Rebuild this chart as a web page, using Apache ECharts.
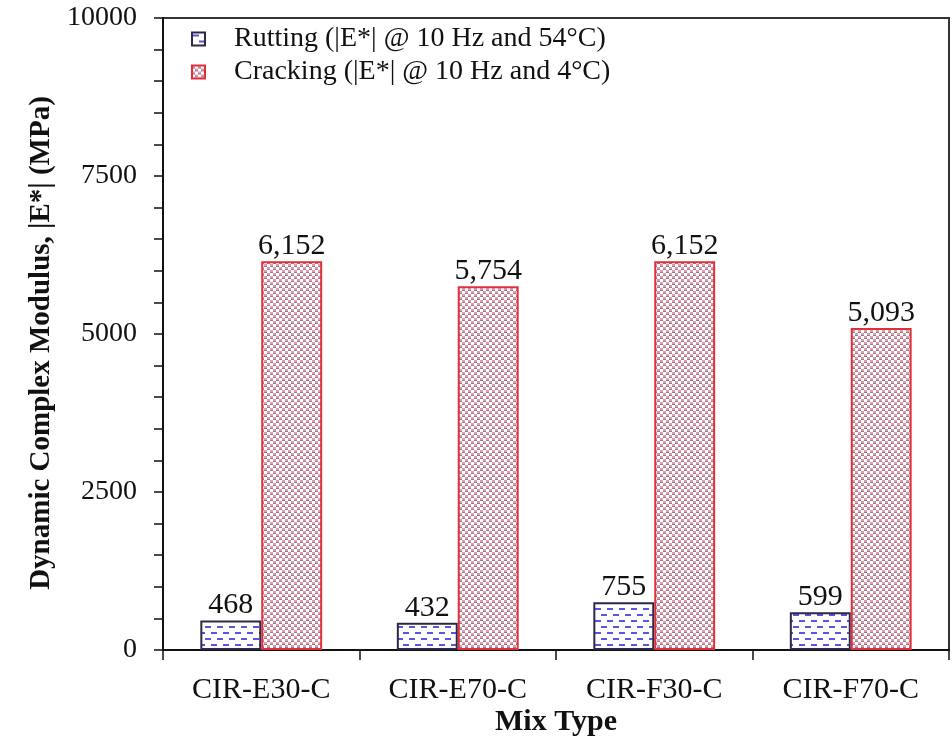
<!DOCTYPE html>
<html>
<head>
<meta charset="utf-8">
<script src="https://cdn.jsdelivr.net/npm/echarts@6/dist/echarts.min.js"></script>
<style>
html,body{margin:0;padding:0;background:#fff;}
#chart{width:952px;height:737px;}
</style>
</head>
<body>
<div id="chart"></div>
<script>
var categories = ['CIR-E30-C', 'CIR-E70-C', 'CIR-F30-C', 'CIR-F70-C'];
var seriesNames = ['Rutting (|E*| @ 10 Hz and 54°C)', 'Cracking (|E*| @ 10 Hz and 4°C)'];
var rutting = [468, 432, 755, 599];
var cracking = [6152, 5754, 6152, 5093];
var yTicks = [0, 2500, 5000, 7500, 10000];

function makeRutPattern() {
  var c = document.createElement('canvas');
  c.width = 12; c.height = 12;
  var g = c.getContext('2d');
  g.fillStyle = '#ffffff';
  g.fillRect(0, 0, 12, 12);
  g.fillStyle = '#5656e0';
  g.fillRect(1, 2, 6, 2);
  g.fillRect(7, 8, 5, 2);
  g.fillRect(0, 8, 1, 2);
  return c;
}
function makeCrackPattern() {
  var c = document.createElement('canvas');
  c.width = 6; c.height = 6;
  var g = c.getContext('2d');
  g.fillStyle = '#ffffff';
  g.fillRect(0, 0, 6, 6);
  var pink = '#e39aae', gray = '#8e8088';
  g.fillStyle = pink; g.fillRect(0, 0, 3, 2);
  g.fillStyle = gray; g.fillRect(0, 2, 3, 1);
  g.fillStyle = pink; g.fillRect(3, 3, 3, 2);
  g.fillStyle = gray; g.fillRect(3, 5, 3, 1);
  return c;
}

var rutFill = { image: makeRutPattern(), repeat: 'repeat' };
var crackFill = { image: makeCrackPattern(), repeat: 'repeat' };
var font = 'Liberation Serif';

var chart = echarts.init(document.getElementById('chart'));
chart.setOption({
  animation: false,
  backgroundColor: '#ffffff',
  textStyle: { fontFamily: font },
  grid: { left: 163, right: 3, top: 18, bottom: 87, show: true, borderColor: '#333', borderWidth: 2,
    backgroundColor: 'transparent', containLabel: false, outerBoundsMode: 'none' },
  legend: {
    orient: 'vertical', left: 186, top: 20, icon: 'rect',
    itemWidth: 13, itemHeight: 13, itemGap: 5,
    textStyle: { fontFamily: font, fontSize: 28, color: '#111', padding: [0, 0, 0, 24], lineHeight: 28 },
    data: [
      { name: seriesNames[0], itemStyle: { color: rutFill, borderColor: '#2a2a48', borderWidth: 2 } },
      { name: seriesNames[1], itemStyle: { color: crackFill, borderColor: '#e0303a', borderWidth: 2 } }
    ]
  },
  xAxis: {
    type: 'category', data: categories,
    name: 'Mix Type', nameLocation: 'middle', nameGap: 57, nameMoveOverlap: false,
    nameTextStyle: { fontFamily: font, fontSize: 30, fontWeight: 'bold', color: '#111' },
    axisLine: { lineStyle: { color: '#111', width: 2 } },
    axisTick: { show: true, inside: false, length: 10, alignWithLabel: false, lineStyle: { color: '#111', width: 1.5 } },
    axisLabel: { fontFamily: font, fontSize: 30, color: '#111', margin: 25 }
  },
  yAxis: {
    type: 'value', min: 0, max: 10000, interval: 2500,
    name: 'Dynamic Complex Modulus, |E*| (MPa)', nameLocation: 'middle', nameGap: 104,
    nameTextStyle: { fontFamily: font, fontSize: 29, fontWeight: 'bold', color: '#111', padding: [0, 18, 0, 0] },
    axisLine: { show: true, lineStyle: { color: '#111', width: 2 } },
    axisTick: { show: true, inside: false, length: 9, lineStyle: { color: '#111', width: 1.5 } },
    minorTick: { show: true, splitNumber: 5, length: 9, lineStyle: { color: '#111', width: 1.5 } },
    splitLine: { show: false },
    axisLabel: {
      fontFamily: font, fontSize: 28, color: '#111', margin: 26,
      formatter: function (v) { return yTicks.indexOf(v) >= 0 ? String(v) : ''; }
    }
  },
  series: [
    {
      name: seriesNames[0], type: 'bar', data: rutting, barWidth: '31%', barGap: '0%',
      itemStyle: { color: rutFill, borderColor: '#2a2a48', borderWidth: 2 },
      label: { show: true, position: 'top', distance: 0, fontFamily: font, fontSize: 30, color: '#111',
        formatter: function (p) { return p.value.toLocaleString('en-US'); } }
    },
    {
      name: seriesNames[1], type: 'bar', data: cracking, barWidth: '31%', barGap: '0%',
      itemStyle: { color: crackFill, borderColor: '#e0303a', borderWidth: 2 },
      label: { show: true, position: 'top', distance: 0, fontFamily: font, fontSize: 30, color: '#111',
        formatter: function (p) { return p.value.toLocaleString('en-US'); } }
    }
  ]
});
</script>
</body>
</html>
